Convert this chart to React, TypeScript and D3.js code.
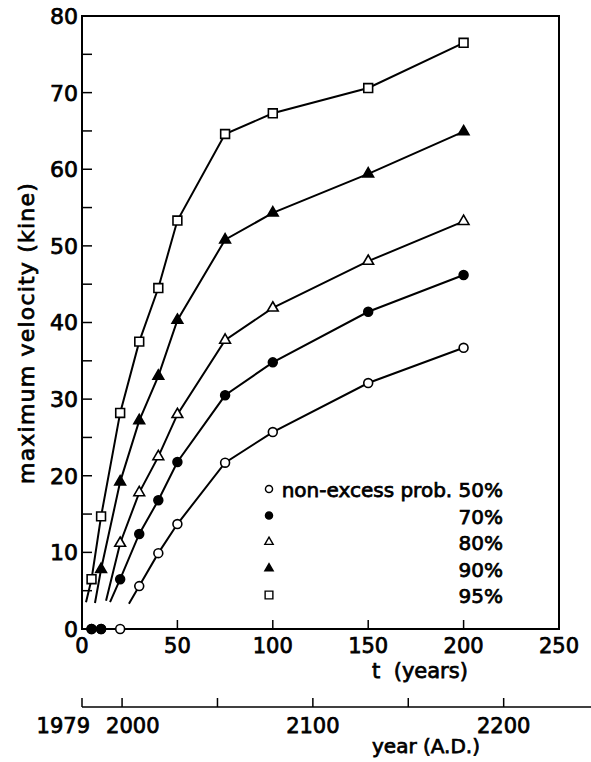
import React, { useEffect, useRef } from 'react';
import * as d3 from 'd3';

// t (years) at which the velocities were computed
const tYears = [5, 10, 20, 30, 40, 50, 75, 100, 150, 200];
// maximum velocity (kine) per non-excess probability, null = not plotted
const prob50 = [0, 0, 0, 5.6, 9.9, 13.7, 21.7, 25.7, 32.1, 36.7];
const prob70 = [0, 0, 6.5, 12.4, 16.8, 21.8, 30.5, 34.8, 41.4, 46.2];
const prob80 = [null, null, 11.2, 17.8, 22.5, 28.0, 37.7, 41.9, 48.0, 53.2];
const prob90 = [null, 7.8, 19.2, 27.2, 33.0, 40.3, 50.8, 54.3, 59.4, 64.9];
const prob95 = [6.5, 14.7, 28.2, 37.5, 44.5, 53.3, 64.6, 67.3, 70.6, 76.5];
// the drawn curves start a bit below their first point: [t, v]
const lineStarts = [[24.6, 3.3], [14.7, 3.5], [12.6, 3.7], [6.8, 3.4], [2.1, 3.5]];
const probLabels = ['50%', '70%', '80%', '90%', '95%'];
const markerKinds = ['circleOpen', 'circleFilled', 'triangleOpen', 'triangleFilled', 'squareOpen'];

const xTickValues = [0, 50, 100, 150, 200, 250];
const yTickValues = [0, 10, 20, 30, 40, 50, 60, 70, 80];
const yMinorValues = [5, 15, 25, 35, 45, 55, 65, 75];
const yearTicks = [1979, 2000, 2050, 2100, 2150, 2200];
const yearLabels = [1979, 2000, 2100, 2200];

const FONT = '"DejaVu Sans", sans-serif';

function symbolFor(kind: string, big: boolean) {
    if (kind.startsWith('circle')) return d3.symbol().type(d3.symbolCircle).size(big ? 62 : 40)();
    if (kind.startsWith('triangle')) return d3.symbol().type(d3.symbolTriangle).size(big ? 50 : 30)();
    return d3.symbol().type(d3.symbolSquare).size(big ? 78 : 60)();
}

export default function App() {
    const ref = useRef<SVGSVGElement>(null);

    useEffect(() => {
        const svg = d3.select(ref.current);
        svg.selectAll('*').remove();

        const x = d3.scaleLinear().domain([0, 250]).range([82, 559]);
        const y = d3.scaleLinear().domain([0, 80]).range([629, 16]);
        const yearX = d3.scaleLinear().domain([1979, 2229]).range([82, 559]);

        const txt = (sel: any) => sel
            .attr('font-family', FONT)
            .attr('fill', 'black')
            .attr('stroke', 'black')
            .attr('stroke-width', 0.75);

        // frame
        svg.append('rect')
            .attr('x', x(0)).attr('y', y(80))
            .attr('width', x(250) - x(0)).attr('height', y(0) - y(80))
            .attr('fill', 'none').attr('stroke', 'black').attr('stroke-width', 2);

        // y ticks, inward
        yTickValues.concat(yMinorValues).filter(v => v > 0 && v < 80).forEach(v => {
            svg.append('line')
                .attr('x1', x(0)).attr('x2', x(0) + 10)
                .attr('y1', y(v)).attr('y2', y(v))
                .attr('stroke', 'black').attr('stroke-width', 1.5);
        });
        yTickValues.forEach(v => {
            svg.append('text').call(txt)
                .attr('x', x(0) - 4).attr('y', y(v)).attr('dy', '0.36em')
                .attr('text-anchor', 'end').attr('font-size', 22)
                .text(v);
        });

        // x ticks
        xTickValues.filter(t => t > 0 && t < 250).forEach(t => {
            svg.append('line')
                .attr('x1', x(t)).attr('x2', x(t))
                .attr('y1', y(0)).attr('y2', y(0) - 9)
                .attr('stroke', 'black').attr('stroke-width', 1.5);
        });
        xTickValues.forEach(t => {
            svg.append('text').call(txt)
                .attr('x', x(t)).attr('y', y(0) + 24)
                .attr('text-anchor', 'middle').attr('font-size', 21)
                .text(t);
        });

        svg.append('text').call(txt)
            .attr('x', 420).attr('y', 678)
            .attr('text-anchor', 'middle').attr('font-size', 21)
            .attr('xml:space', 'preserve')
            .text('t  (years)');

        svg.append('text').call(txt)
            .attr('transform', 'translate(34,333) rotate(-90)')
            .attr('text-anchor', 'middle').attr('font-size', 22)
            .attr('letter-spacing', 1.2)
            .text('maximum velocity (kine)');

        // lower year axis
        const yearY = 707;
        svg.append('line')
            .attr('x1', yearX(1979)).attr('x2', 591)
            .attr('y1', yearY).attr('y2', yearY)
            .attr('stroke', 'black').attr('stroke-width', 1.5);
        yearTicks.forEach(yr => {
            svg.append('line')
                .attr('x1', yearX(yr)).attr('x2', yearX(yr))
                .attr('y1', yearY).attr('y2', yearY - 9)
                .attr('stroke', 'black').attr('stroke-width', 1.5);
        });
        yearLabels.forEach(yr => {
            let anchor = 'middle';
            let dx = 0;
            if (yr === 1979) { anchor = 'end'; dx = 8; }
            if (yr === 2000) { anchor = 'start'; dx = -16; }
            svg.append('text').call(txt)
                .attr('x', yearX(yr) + dx).attr('y', yearY + 26)
                .attr('text-anchor', anchor).attr('font-size', 21)
                .text(yr);
        });
        svg.append('text').call(txt)
            .attr('x', 426).attr('y', 753)
            .attr('text-anchor', 'middle').attr('font-size', 20)
            .text('year (A.D.)');

        // series
        const series = [prob50, prob70, prob80, prob90, prob95];
        const line = d3.line<number[]>().x(d => x(d[0])).y(d => y(d[1]));

        series.forEach((vals, i) => {
            const pts = tYears.map((t, j) => [t, vals[j]])
                .filter(d => d[1] !== null && (d[1] as number) > 0) as number[][];
            svg.append('path')
                .attr('d', line([lineStarts[i]].concat(pts)))
                .attr('fill', 'none').attr('stroke', 'black').attr('stroke-width', 2);
        });

        series.forEach((vals, i) => {
            const kind = markerKinds[i];
            const filled = kind.endsWith('Filled');
            tYears.forEach((t, j) => {
                if (vals[j] === null) return;
                svg.append('path')
                    .attr('d', symbolFor(kind, true))
                    .attr('transform', `translate(${x(t)},${y(vals[j] as number)})`)
                    .attr('fill', filled ? 'black' : 'white')
                    .attr('stroke', 'black').attr('stroke-width', 1.6);
            });
        });

        // legend
        probLabels.forEach((lab, i) => {
            const base = 497 + i * 26.5;
            const kind = markerKinds[i];
            svg.append('path')
                .attr('d', symbolFor(kind, false))
                .attr('transform', `translate(269,${base - 8})`)
                .attr('fill', kind.endsWith('Filled') ? 'black' : 'white')
                .attr('stroke', 'black').attr('stroke-width', 1.4);
            svg.append('text').call(txt)
                .attr('x', 503).attr('y', base)
                .attr('text-anchor', 'end').attr('font-size', 20)
                .text(i === 0 ? 'non-excess prob. ' + lab : lab);
        });
    }, []);

    return (
        <svg ref={ref} width={591} height={762}
            style={{ position: 'absolute', left: 0, top: 0, background: 'white' }} />
    );
}
